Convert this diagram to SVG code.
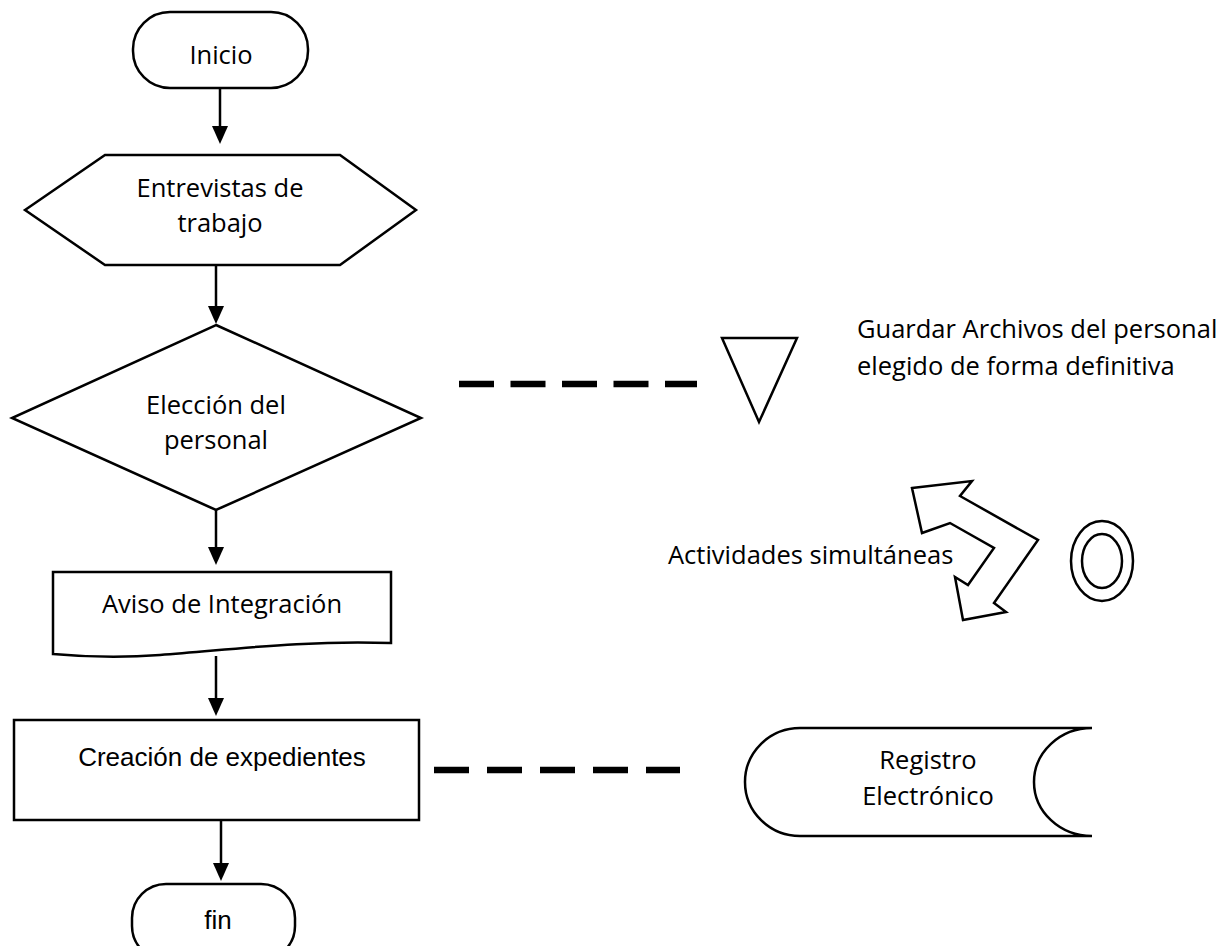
<svg xmlns="http://www.w3.org/2000/svg" width="1220" height="946" viewBox="0 0 1220 946">
<defs>
<style>
.s{fill:#fff;stroke:#000;stroke-width:2.5;stroke-linejoin:miter}
.t{font-family:"Open Sans","Noto Sans",sans-serif;font-size:25.5px;fill:#000;text-anchor:middle}
.l{text-anchor:start}
.ta{font-family:"Liberation Sans",Arial,sans-serif;font-size:26px;fill:#000;text-anchor:middle}
.c{stroke:#000;stroke-width:2.5;fill:none}
.d{stroke:#000;stroke-width:6.5;fill:none}
</style>
</defs>
<rect width="1220" height="946" fill="#fff"/>
<g id="connectors">
<path class="c" d="M220,88 V128"/>
<path d="M212,126 H228 L220,144 Z"/>
<path class="c" d="M216,265 V308"/>
<path d="M208,306 H224 L216,324 Z"/>
<path class="c" d="M216,510 V549"/>
<path d="M208,547 H224 L216,565 Z"/>
<path class="c" d="M216,656 V700"/>
<path d="M208,698 H224 L216,716 Z"/>
<path class="c" d="M221,820 V865"/>
<path d="M213,863 H229 L221,881 Z"/>
<path class="d" d="M459,384 H697" stroke-dasharray="35 16.5"/>
<path class="d" d="M434,770 H680" stroke-dasharray="35 18"/>
</g>
<g id="inicio">
<rect class="s" x="133" y="12" width="175" height="76" rx="37" ry="37" stroke-width="2"/>
<text class="t" x="221" y="64">Inicio</text>
</g>
<g id="entrevistas">
<polygon class="s" points="25,210 105,155 340,155 416,210 340,265 105,265"/>
<text class="t" x="220" y="197">Entrevistas de</text>
<text class="t" x="220" y="232">trabajo</text>
</g>
<g id="eleccion">
<polygon class="s" points="216,325 421,418 216,510 12,418"/>
<text class="t" x="216" y="414">Elección del</text>
<text class="t" x="216" y="449">personal</text>
</g>
<g id="aviso">
<path class="s" d="M53,572 H391 V643 C300,640 230,650 160,655 C110,659 75,656 53,654 Z"/>
<text class="t" x="222" y="613">Aviso de Integración</text>
</g>
<g id="creacion">
<rect class="s" x="14" y="720" width="405" height="100" stroke-width="3.5"/>
<text class="ta" x="222" y="766">Creación de expedientes</text>
</g>
<g id="fin">
<rect class="s" x="132" y="884" width="163" height="76" rx="34" ry="34" stroke-width="4.5"/>
<text class="ta" x="218" y="929">fin</text>
</g>
<g id="almacen">
<polygon class="s" points="722,338 797,338 759,422"/>
<text class="t l" x="857" y="338">Guardar Archivos del personal</text>
<text class="t l" x="857" y="375">elegido de forma definitiva</text>
</g>
<g id="simultaneas">
<polygon class="s" points="912,488 972,481 960,496 1038,540 994,603 1006,612 963,620 955,577 968,585 994,548 950,523 922,533"/>
<text class="t l" x="668" y="564">Actividades simultáneas</text>
</g>
<g id="circulo">
<ellipse class="s" cx="1102" cy="561" rx="31" ry="40" stroke-width="2"/>
<ellipse class="s" cx="1102" cy="561" rx="20" ry="27" stroke-width="2"/>
</g>
<g id="registro">
<path class="s" d="M800,728 H1092 A58,54 0 0 0 1092,836 H800 A55,54 0 0 1 800,728 Z"/>
<text class="t" x="928" y="769">Registro</text>
<text class="t" x="928" y="805">Electrónico</text>
</g>
</svg>
